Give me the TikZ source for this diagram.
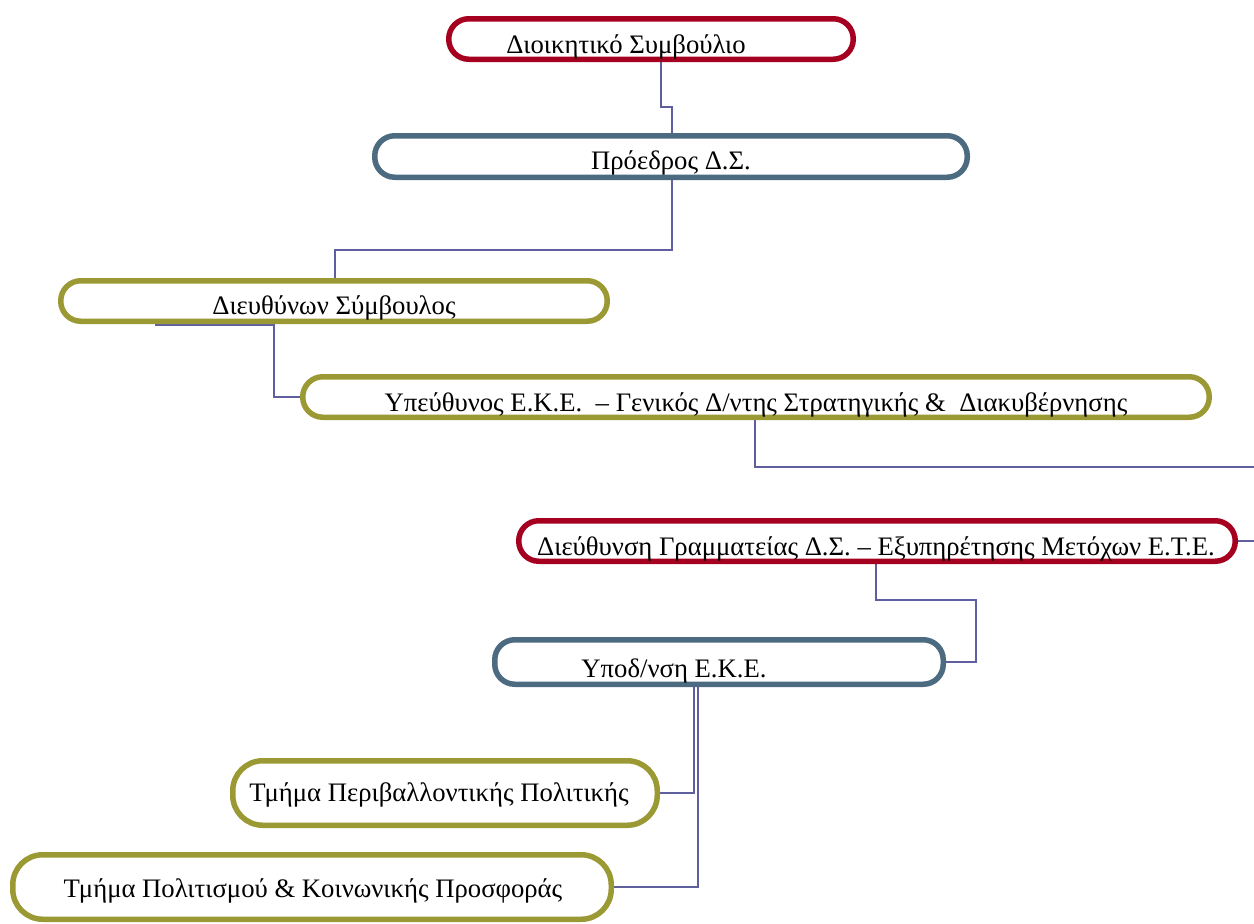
\documentclass[tikz,border=0pt]{standalone}
\usepackage{fontspec}
\setmainfont{Liberation Serif}
\usetikzlibrary{backgrounds}
\definecolor{cred}{HTML}{A60021}
\definecolor{cblue}{HTML}{4C6A80}
\definecolor{colive}{HTML}{9B9934}
\definecolor{cline}{HTML}{5F5FA0}
\frenchspacing
\begin{document}
\begin{tikzpicture}[x=1pt,y=-1pt,
  box/.style={draw, line width=5.5pt, rounded corners=20pt, fill=white, inner sep=0pt},
  tallbox/.style={box, rounded corners=30pt},
  lbl/.style={anchor=base, inner sep=0pt, font=\fontsize{26.7}{32}\selectfont},
  conn/.style={draw=cline, line width=1.5pt}]
\useasboundingbox (0,0) rectangle (1254,924);
% boxes
\node[box, draw=cred,  minimum width=404.5pt, minimum height=40.5pt] (b1) at (651,39) {};
\node[box, draw=cblue, minimum width=592.5pt, minimum height=41.5pt] (b2) at (671,156.5) {};
\node[box, draw=colive, minimum width=546.5pt, minimum height=40.5pt] (b3) at (334,301) {};
\node[box, draw=colive, minimum width=906.5pt, minimum height=40.5pt] (b4) at (756,397) {};
\node[box, draw=cred,  minimum width=716.5pt, minimum height=40.5pt] (b5) at (877,541) {};
\node[box, draw=cblue, minimum width=448.5pt, minimum height=44.5pt] (b6) at (719,662) {};
\node[tallbox, draw=colive, minimum width=424.5pt, minimum height=64.5pt] (b7) at (445,793) {};
\node[tallbox, draw=colive, minimum width=598.5pt, minimum height=64.5pt] (b8) at (312,887) {};
% labels
\node[lbl] (t1) at (626,53) {Διοικητικό Συμβούλιο};
\node[lbl] (t2) at (671,169) {Πρόεδρος Δ.Σ.};
\node[lbl] (t3) at (334,314) {Διευθύνων Σύμβουλος};
\node[lbl] (t4) at (756,411) {Υπεύθυνος Ε.Κ.Ε.\ \ – Γενικός Δ/ντης Στρατηγικής \&\ \ Διακυβέρνησης};
\node[lbl] (t5) at (876,555) {Διεύθυνση Γραμματείας Δ.Σ. – Εξυπηρέτησης Μετόχων Ε.Τ.Ε.};
\node[lbl] (t6) at (674,677) {Υποδ/νση Ε.Κ.Ε.};
\node[lbl] (t7) at (439,801) {Τμήμα Περιβαλλοντικής Πολιτικής};
\node[lbl] (t8) at (313,897) {Τμήμα Πολιτισμού \& Κοινωνικής Προσφοράς};
% free ends
\coordinate (c3s) at (155,325);
\coordinate (e1) at (1254,467);
\coordinate (e2) at (1254,541);
\begin{pgfonlayer}{background}
\draw[conn] (b1.south -| 661,0) -- (661,107) -- (672,107) -- (b2.north -| 672,0);
\draw[conn] (b2.south -| 672,0) -- (672,250) -- (335,250) -- (b3.north -| 335,0);
\draw[conn] (c3s) -- (274,325) |- (b4.west);
\draw[conn] (b4.south -| 755,0) |- (e1);
\draw[conn] (b5.east) -- (e2);
\draw[conn] (b5.south -| 876,0) -- (876,600) -- (976,600) |- (b6.east);
\draw[conn] (b6.south -| 694,0) |- (b7.east);
\draw[conn] (b6.south -| 698,0) |- (b8.east);
\end{pgfonlayer}
\end{tikzpicture}
\end{document}
